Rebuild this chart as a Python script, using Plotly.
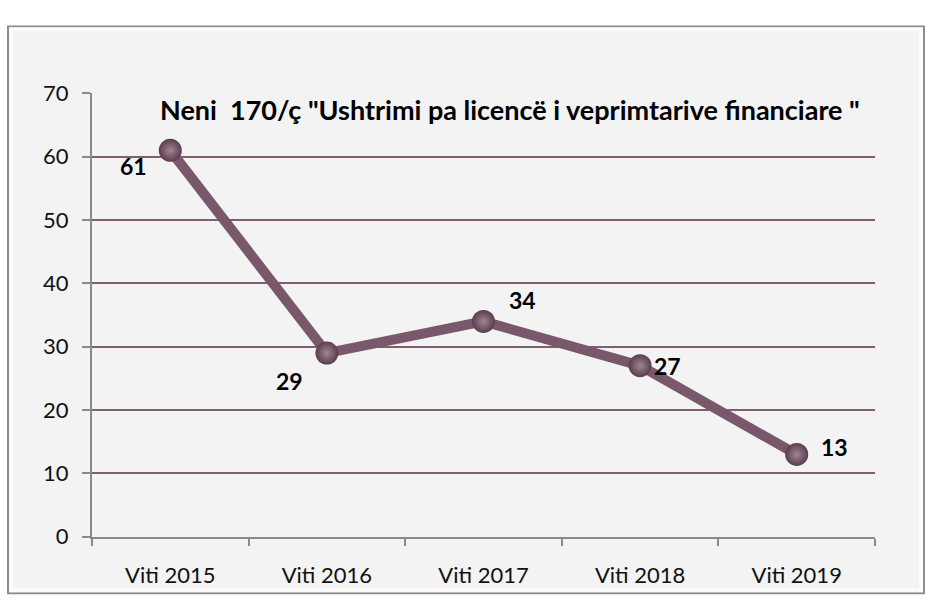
import plotly.graph_objects as go

# Cases per year under article 170/ç
years = ["Viti 2015", "Viti 2016", "Viti 2017", "Viti 2018", "Viti 2019"]
cases = [61, 29, 34, 27, 13]
y_ticks = [0, 10, 20, 30, 40, 50, 60, 70]
title_text = "Neni  170/ç \"Ushtrimi pa licencë i veprimtarive financiare \""

# label offsets (px) around each point
label_dx = [-37, -37, 39, 27, 38]
label_dy = [-16, -28, 21, 0, 7]

W, H = 927, 610
FONT = "Lato"
LINE = "#7a586c"
GRID = "#7e5e6f"
AXIS = "#8a8a8a"

fig = go.Figure()
fig.add_trace(go.Scatter(
    x=years, y=cases, mode="lines+markers",
    line=dict(color=LINE, width=10),
    marker=dict(size=23, color="#5a3d4d",
                gradient=dict(type="radial", color="#a08595"),
                line=dict(width=0)),
    hoverinfo="x+y", showlegend=False,
))

for i, (yr, v) in enumerate(zip(years, cases)):
    fig.add_annotation(x=yr, y=v, text=f"<b>{v}</b>", showarrow=False,
                       xshift=label_dx[i], yshift=label_dy[i],
                       font=dict(family=FONT, size=23, color="#000000"))

fig.add_annotation(xref="paper", yref="paper", x=510 / W, y=1 - 100 / H,
                   text=f"<b>{title_text}</b>", showarrow=False,
                   xanchor="center", yanchor="middle",
                   font=dict(family=FONT, size=27, color="#000000"))

# outer frame with a light bevel
fig.add_shape(type="rect", xref="paper", yref="paper", layer="below",
              x0=8 / W, x1=924 / W, y0=1 - 606 / H, y1=1 - 13 / H,
              line=dict(color="#8c8c8c", width=2), fillcolor="#f3f3f3")
fig.add_shape(type="rect", xref="paper", yref="paper", layer="below",
              x0=11 / W, x1=921 / W, y0=1 - 603 / H, y1=1 - 16 / H,
              line=dict(color="#fbfbfb", width=4), fillcolor="rgba(0,0,0,0)")

fig.update_layout(
    width=W, height=H,
    margin=dict(l=0, r=0, t=0, b=0),
    paper_bgcolor="#ffffff", plot_bgcolor="rgba(0,0,0,0)",
    font=dict(family=FONT, size=22, color="#111111"),
    xaxis=dict(domain=[92 / W, 875 / W], type="category",
               range=[-0.5, 4.5], tickson="boundaries",
               showline=True, linecolor=AXIS, linewidth=2,
               ticks="outside", ticklen=7, tickcolor=AXIS, tickwidth=2,
               showgrid=False, zeroline=False, fixedrange=True,
               ticklabelstandoff=18,
               tickfont=dict(family=FONT, size=22, color="#111111")),
    yaxis=dict(domain=[(H - 547) / H, (H - 83) / H], range=[0, 70],
               tickvals=y_ticks, showline=True, linecolor=AXIS, linewidth=2,
               ticks="outside", ticklen=8, tickcolor=AXIS, tickwidth=2,
               showgrid=True, gridcolor=GRID, gridwidth=2,
               zeroline=False, fixedrange=True, ticklabelstandoff=9,
               tickfont=dict(family=FONT, size=22, color="#111111")),
)

fig.write_html("out.html")
